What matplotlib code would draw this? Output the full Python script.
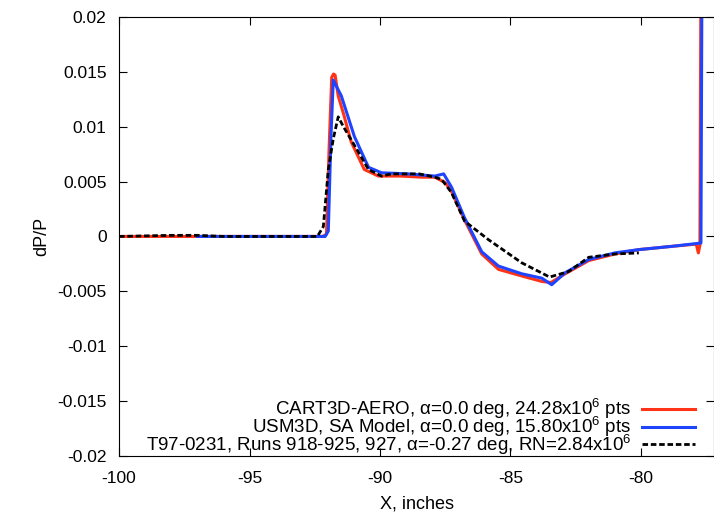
import matplotlib
matplotlib.use('Agg')
import matplotlib.pyplot as plt

plt.rcParams['font.family'] = ['Liberation Sans', 'DejaVu Sans']
plt.rcParams['mathtext.fontset'] = 'custom'
plt.rcParams['mathtext.rm'] = 'Liberation Sans'

# CART3D-AERO
x_cart = [-100, -97, -93, -92.2, -92.05, -91.95, -91.85, -91.78, -91.72, -91.6,
          -91.4, -91.1, -90.6, -90.06, -89.2, -88.4, -87.9, -87.5, -87.26, -86.76,
          -86.1, -85.46, -84.57, -83.8, -83.45, -82.9, -82.0, -81.0, -80.08, -78.8,
          -77.88, -77.8, -77.74, -77.7]
y_cart = [0, 0, 0, 0, 0.0002, 0.008, 0.0145, 0.0148, 0.0147, 0.0128,
          0.0112, 0.0086, 0.0061, 0.0055, 0.0055, 0.0054, 0.0054, 0.0049, 0.0041, 0.0015,
          -0.0016, -0.003, -0.0036, -0.0041, -0.0042, -0.0034, -0.0022, -0.0016, -0.0012, -0.0009,
          -0.0007, -0.0015, -0.0008, 0.025]

# USM3D, SA model
x_usm = [-97, -93, -92.1, -91.98, -91.88, -91.79, -91.48, -90.98, -90.44, -89.94,
         -88.9, -87.9, -87.56, -87.26, -86.76, -86.1, -85.46, -84.57, -83.8, -83.42,
         -82.9, -82.0, -81.0, -80.08, -78.8, -77.7, -77.66]
y_usm = [0, 0, 0, 0.0005, 0.009, 0.01425, 0.0128, 0.0091, 0.0063, 0.0058,
         0.0057, 0.0055, 0.0057, 0.0045, 0.0017, -0.0014, -0.0027, -0.0034, -0.0038, -0.0044,
         -0.0033, -0.0021, -0.0015, -0.0012, -0.0009, -0.0006, 0.025]

# T97-0231 wind tunnel
x_exp = [-100, -98, -97, -96, -92.4, -92.17, -91.98, -91.79, -91.6, -91.4,
         -90.83, -90.44, -89.94, -89.56, -88.5, -87.9, -87.64, -87.26, -86.76, -85.84,
         -84.57, -83.5, -82.77, -82.0, -81.0, -80.08]
y_exp = [0, 0.0001, 0.0001, 0, 0, 0.0009, 0.0061, 0.0089, 0.0109, 0.0100,
         0.0077, 0.0061, 0.0055, 0.0057, 0.0057, 0.0054, 0.0052, 0.004, 0.0014, -0.0003,
         -0.0024, -0.0037, -0.0032, -0.0019, -0.0016, -0.0015]

xticks = [-100, -95, -90, -85, -80]
yticks = [-0.02, -0.015, -0.01, -0.005, 0, 0.005, 0.01, 0.015, 0.02]
ylabels = ['-0.02', '-0.015', '-0.01', '-0.005', '0', '0.005', '0.01', '0.015', '0.02']

fig = plt.figure(figsize=(7.14, 5.14), dpi=100)
ax = fig.add_axes([0.1667, 0.113, 0.8333, 0.854])

ax.plot(x_cart, y_cart, color='#ff3318', lw=2.2,
        label='CART3D-AERO, \u03b1=0.0 deg, 24.28x10$^{6}$ pts')
ax.plot(x_usm, y_usm, color='#1f44ff', lw=2.2,
        label='USM3D, SA Model, \u03b1=0.0 deg, 15.80x10$^{6}$ pts')
ax.plot(x_exp, y_exp, color='black', lw=2.0, ls=(0, (2, 1)),
        label='T97-0231, Runs 918-925, 927, \u03b1=-0.27 deg, RN=2.84x10$^{6}$')

ax.set_xlim(-100, -77.2)
ax.set_ylim(-0.02, 0.02)
ax.set_xticks(xticks)
ax.set_xticklabels([str(t) for t in xticks])
ax.set_yticks(yticks)
ax.set_yticklabels(ylabels)
ax.tick_params(direction='in', top=True, right=True, labelsize=12.5, length=6)
ax.tick_params(axis='x', pad=11)
ax.tick_params(axis='y', pad=9)
ax.set_xlabel('X, inches', fontsize=13, labelpad=7)
ax.set_ylabel('dP/P', fontsize=13, labelpad=5)

ax.legend(loc='lower right', markerfirst=False, frameon=False, fontsize=13.5,
          handlelength=2.8, handletextpad=0.6, labelspacing=-0.38,
          borderpad=0, borderaxespad=0, bbox_to_anchor=(0.968, -0.002))

fig.savefig('out.png', dpi=100)
